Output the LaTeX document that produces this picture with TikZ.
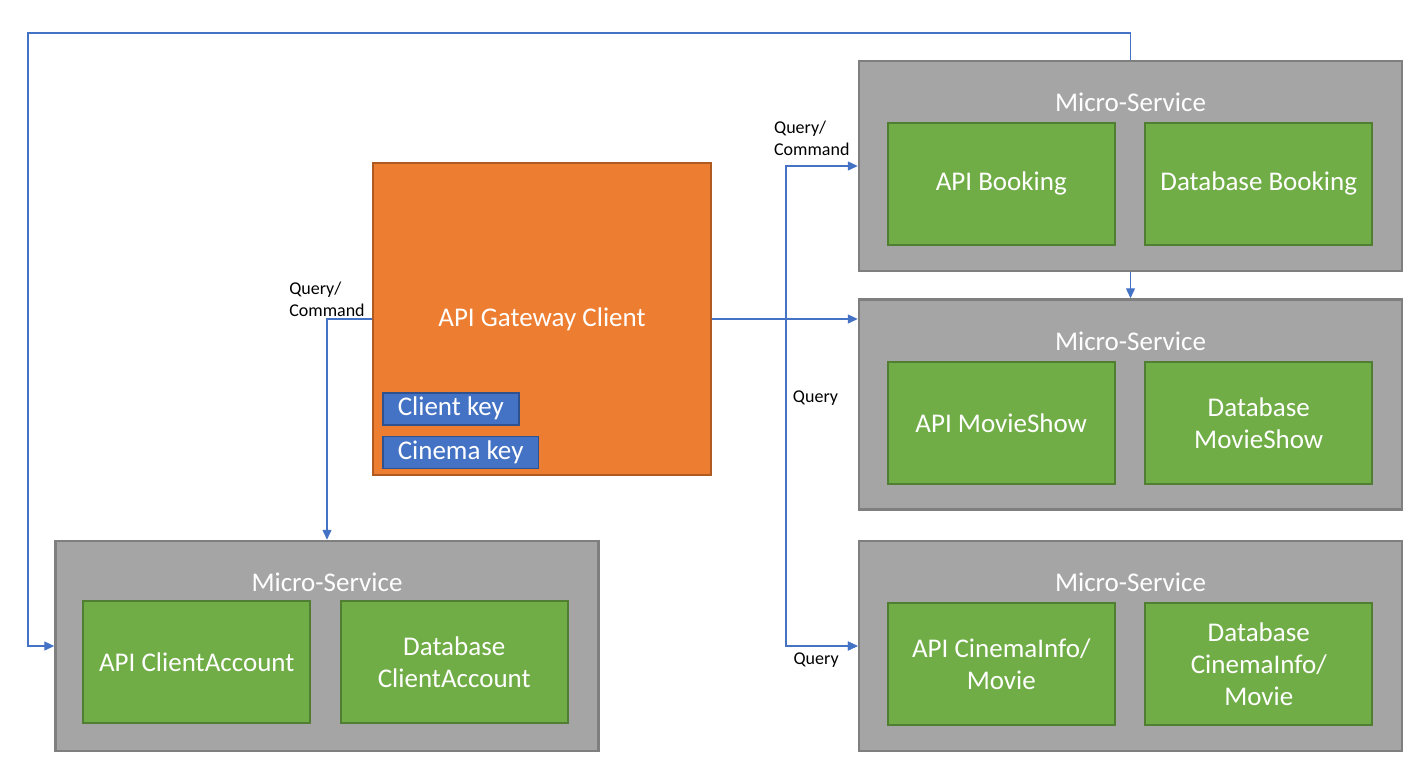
\documentclass[tikz,border=0pt]{standalone}
\usepackage{fontspec}
\setmainfont{Carlito}
\usepackage{xcolor}
\usepackage{tikz}
\usetikzlibrary{arrows.meta,positioning}

\definecolor{msgrey}{HTML}{A5A5A5}
\definecolor{msedge}{HTML}{7F7F7F}
\definecolor{apigreen}{HTML}{70AD47}
\definecolor{apiedge}{HTML}{507E32}
\definecolor{gworange}{HTML}{ED7D31}
\definecolor{gwedge}{HTML}{AE5A21}
\definecolor{keyblue}{HTML}{4472C4}
\definecolor{keyedge}{HTML}{2F528F}
\definecolor{linkblue}{HTML}{4472C4}

\newcommand{\boxsize}{\fontsize{27}{32}\selectfont}
\newcommand{\lblsize}{\fontsize{18}{22}\selectfont}

\begin{document}
\begin{tikzpicture}[x=1pt,y=-1pt]
            \tikzstyle{service} = [draw=msedge, fill=msgrey, line width=2.5pt, minimum width=543pt, minimum height=210pt]
            \tikzstyle{title} = [text=white, font=\boxsize]
            \tikzstyle{part} = [draw=apiedge, fill=apigreen, line width=2pt, minimum width=227pt, minimum height=122pt, text=white, align=center, font=\boxsize]
            \tikzstyle{gateway} = [draw=gwedge, fill=gworange, line width=2pt, minimum width=338pt, minimum height=312pt, text=white, font=\boxsize]
            \tikzstyle{key} = [draw=keyedge, fill=keyblue, line width=1.5pt, minimum height=32pt, inner xsep=15pt, text=white, font=\boxsize]
            \tikzstyle{link} = [draw=linkblue, line width=1.3pt, -{Triangle[length=10pt,width=9pt]}]
            \tikzstyle{lbl} = [text=black, font=\lblsize, align=left]

            \useasboundingbox (0,0) rectangle (1420,780);

            \node [service] (booking) at (1130.5,166) {};
            \node [service, below = 26pt of booking] (movieshow) {};
            \node [service, below = 29pt of movieshow] (cinemainfo) {};
            \node [service, left = 258pt of cinemainfo] (client) {};
            \node [gateway] (gw) at (542,319) {API Gateway Client};

            \node [title] at ([yshift=-43pt]booking.north) {Micro-Service};
            \node [title] at ([yshift=-43pt]movieshow.north) {Micro-Service};
            \node [title] at ([yshift=-43pt]cinemainfo.north) {Micro-Service};
            \node [title] at ([yshift=-43pt]client.north) {Micro-Service};

            \node [part, below right = 62pt and 29pt of booking.north west] (apibooking) {API Booking};
            \node [part, below left = 62pt and 30pt of booking.north east] (dbbooking) {Database Booking};
            \node [part, below right = 63pt and 29pt of movieshow.north west] (apimovieshow) {API MovieShow};
            \node [part, below left = 63pt and 30pt of movieshow.north east] (dbmovieshow) {Database\\MovieShow};
            \node [part, below right = 62pt and 29pt of cinemainfo.north west] (apicinemainfo) {API CinemaInfo/\\Movie};
            \node [part, below left = 62pt and 30pt of cinemainfo.north east] (dbcinemainfo) {Database\\CinemaInfo/\\Movie};
            \node [part, below right = 60pt and 28pt of client.north west] (apiclient) {API ClientAccount};
            \node [part, below left = 60pt and 31pt of client.north east] (dbclient) {Database\\ClientAccount};

            \node [key, below right = 230pt and 10pt of gw.north west] (clientkey) {Client key};
            \node [key, below = 10pt of clientkey.south west, anchor=north west] (cinemakey) {Cinema key};

            \coordinate [right = 74pt of gw.east] (split);
            \coordinate (corner) at (28,33);

            \draw [link] (gw.west) -| node[lbl, pos=0.5, above, inner sep=2pt] {Query/\\Command} (client.north);
            \draw [link] (gw.east) -- (movieshow.west |- gw.east);
            \draw [link] (split) |- node[lbl, pos=0.68, above, yshift=6pt] {Query/\\Command} (booking.west);
            \draw [link] (split) |- node[lbl, pos=0.121, right, xshift=3pt] {Query} (cinemainfo.west);
            \draw [link] (split) |- node[lbl, pos=0.71, below, yshift=-3pt] {Query} (cinemainfo.west);
            \draw [link] (booking.south) -- (movieshow.north);
            \draw [link] (booking.north) |- (corner) |- (client.west);
\end{tikzpicture}
\end{document}
